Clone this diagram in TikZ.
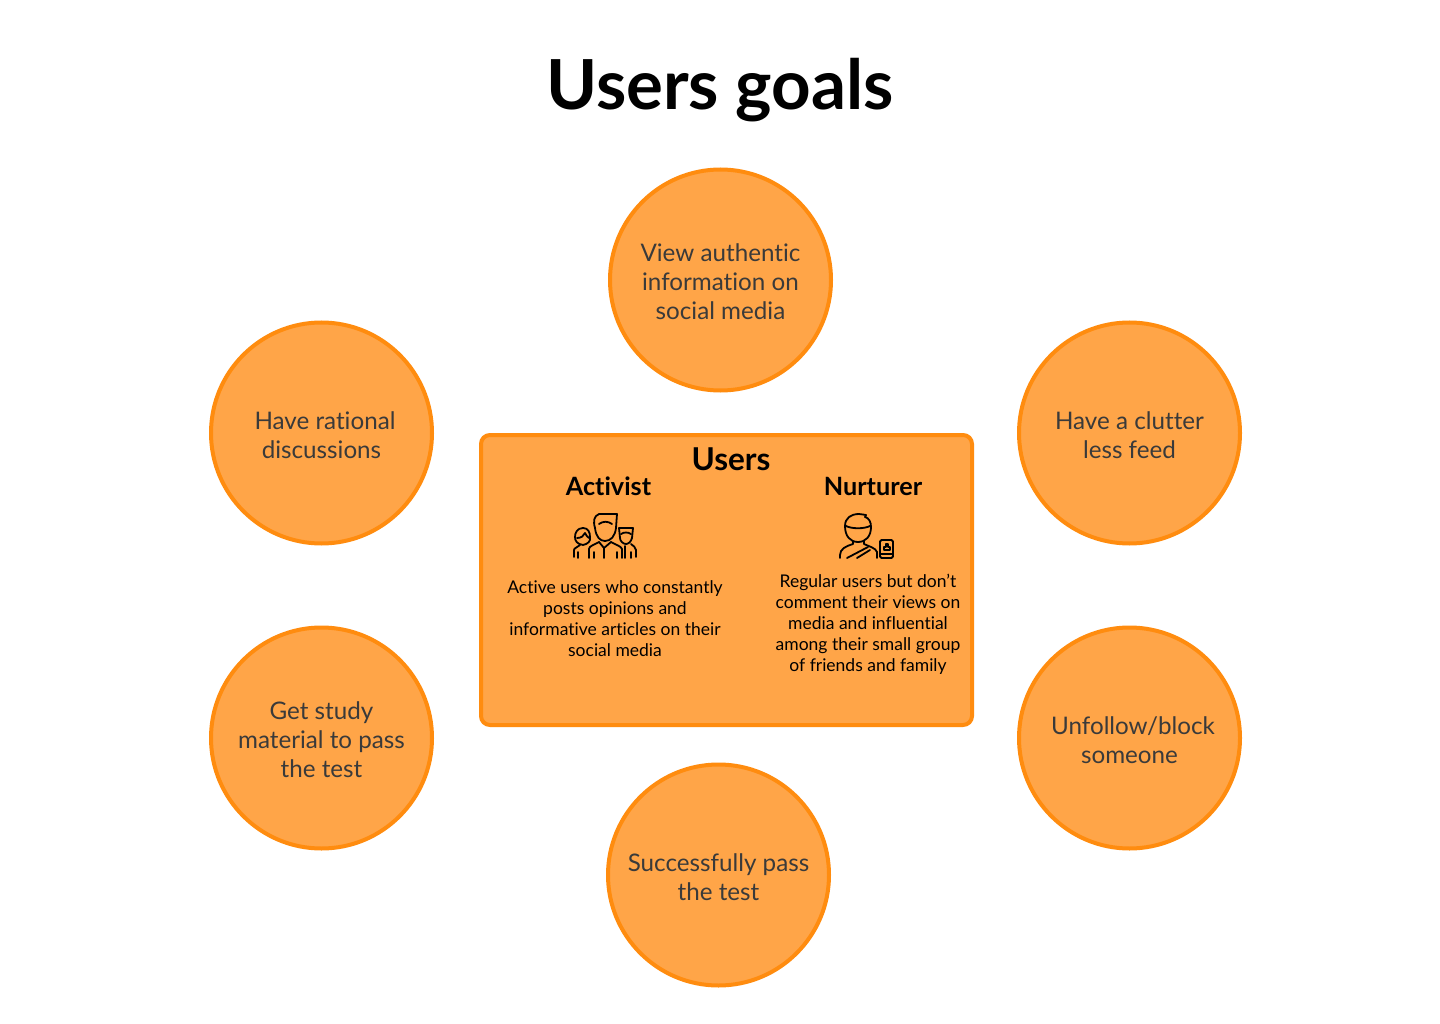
\documentclass[tikz,border=0pt]{standalone}
\usepackage{fontspec}
\setmainfont{Lato}[Ligatures=NoCommon]
\definecolor{orfill}{HTML}{FFA548}
\definecolor{orline}{HTML}{FF8C0F}
\definecolor{goaltext}{HTML}{3A3A3A}
\tikzset{
  goal/.style={circle,draw=orline,fill=orfill,line width=4pt,minimum size=221pt,inner sep=0pt},
  goaltxt/.style={align=center,text=goaltext,inner sep=0pt,yshift=-2pt,font=\fontsize{24.2}{29}\selectfont},
  headtxt/.style={font=\fontsize{25.2}{30}\bfseries\selectfont,text=black,inner sep=0pt},
  subtxt/.style={align=center,text=black,inner sep=0pt,font=\fontsize{17.5}{21}\selectfont},
  ic/.style={draw=black,line width=1.8pt,line cap=round,line join=round}
}
\begin{document}
\begin{tikzpicture}[x=1pt,y=-1pt]
\useasboundingbox (0,0) rectangle (1440,1024);
\fill[white] (0,0) rectangle (1440,1024);
\node[font=\fontsize{69}{72}\bfseries\selectfont,inner sep=0pt] (title) at (720,90) {Users goals};
\node[goal] (g1) at (720.5,280) {};
\node[goal] (g2) at (321.5,433) {};
\node[goal] (g3) at (1129.5,433) {};
\node[goal] (g4) at (321.5,738) {};
\node[goal] (g5) at (1129.5,738) {};
\node[goal] (g6) at (718.5,875) {};
\node[goaltxt] (t1) at (g1) {View authentic\\information on\\social media};
\node[goaltxt] (t2) at (g2) {\hspace*{7pt}Have rational\\discussions};
\node[goaltxt] (t3) at (g3) {Have a clutter\\less feed};
\node[goaltxt] (t4) at (g4) {Get study\\material to pass\\the test};
\node[goaltxt] (t5) at (g5) {\hspace*{7pt}Unfollow/block\\someone};
\node[goaltxt] (t6) at (g6) {Successfully pass\\the test};
\draw[orline,fill=orfill,line width=4pt,rounded corners=9pt] (481,435) rectangle (972,725);
\node[font=\fontsize{31.5}{34}\bfseries\selectfont,inner sep=0pt] (users) at (731,459) {Users};
\node[headtxt] (act) at (608.5,486) {Activist};
\node[headtxt] (nur) at (873,486) {Nurturer};
\node[subtxt] (actd) at (615,618.5) {Active users who constantly\\posts opinions and\\informative articles on their\\social media};
\node[subtxt] (nurd) at (868,624.5) {Regular users but don't\\comment their views on\\media and influential\\among their small group\\of friends and family};
% activist icon
\draw[ic] (617,514) -- (599,514) .. controls (594,516) and (593,521) .. (595,528) .. controls (596,537) and (600,541) .. (605,541) .. controls (611,541) and (615,536) .. (616,528) -- cycle;
\draw[ic] (599,524) .. controls (603,521) and (608,521) .. (612,524);
\draw[ic] (589,558) -- (589,549) .. controls (589,546) and (594,545) .. (599,542) (611,542) .. controls (616,545) and (621,546) .. (622,549) -- (622,558);
\draw[ic] (599,542) -- (604,548) -- (611,542) (604,548) -- (604,558) (594,552) -- (594,558) (617,552) -- (617,558);
\draw[ic] (583,528) .. controls (577,528) and (575,533) .. (575,537) .. controls (575,541) and (577,544) .. (583,545) .. controls (588,544) and (591,541) .. (590,537) .. controls (590,532) and (588,528) .. (583,528) -- cycle;
\draw[ic] (577,538) .. controls (581,538) and (584,536) .. (585,533) .. controls (586,536) and (588,537) .. (589,538);
\draw[ic] (574,557) -- (574,550) .. controls (574,548) and (578,547) .. (580,545) (578,552) -- (578,558);
\draw[ic] (619,528) -- (633,528) -- (632,538) .. controls (631,542) and (628,544) .. (626,544) .. controls (623,544) and (620,541) .. (620,538) -- cycle;
\draw[ic] (621,534) .. controls (624,532) and (628,532) .. (631,534);
\draw[ic] (631,544) .. controls (633,546) and (636,547) .. (636,550) -- (636,557) (631,552) -- (631,558) (625,546) -- (625,558);
% nurturer icon
\draw[ic] (845,526) .. controls (845,518) and (851,514) .. (859,514) .. controls (862,514) and (864,515) .. (866,515) -- (865,517) .. controls (869,518) and (871,522) .. (871,527) .. controls (871,536) and (866,542) .. (858,542) .. controls (850,542) and (845,536) .. (845,526) -- cycle;
\draw[ic] (846,526) .. controls (852,529) and (864,529) .. (870,526);
\draw[ic] (853,541) -- (853,544) .. controls (846,546) and (840,549) .. (840,555) -- (840,558) (864,541) -- (864,544) .. controls (868,546) and (876,548) .. (877,552) -- (877,558);
\draw[ic] (847,558) -- (868,547) (857,558) -- (870,550);
\draw[ic,rounded corners=1.5pt] (880,540) rectangle (893,558);
\draw[ic] (880,554) -- (893,554);
\draw[ic,line width=1.4pt] (884,550) -- (884,547) -- (886,547) -- (886,544) -- (888,544) -- (888,547) -- (890,547) -- (890,550) -- cycle;
\end{tikzpicture}
\end{document}
